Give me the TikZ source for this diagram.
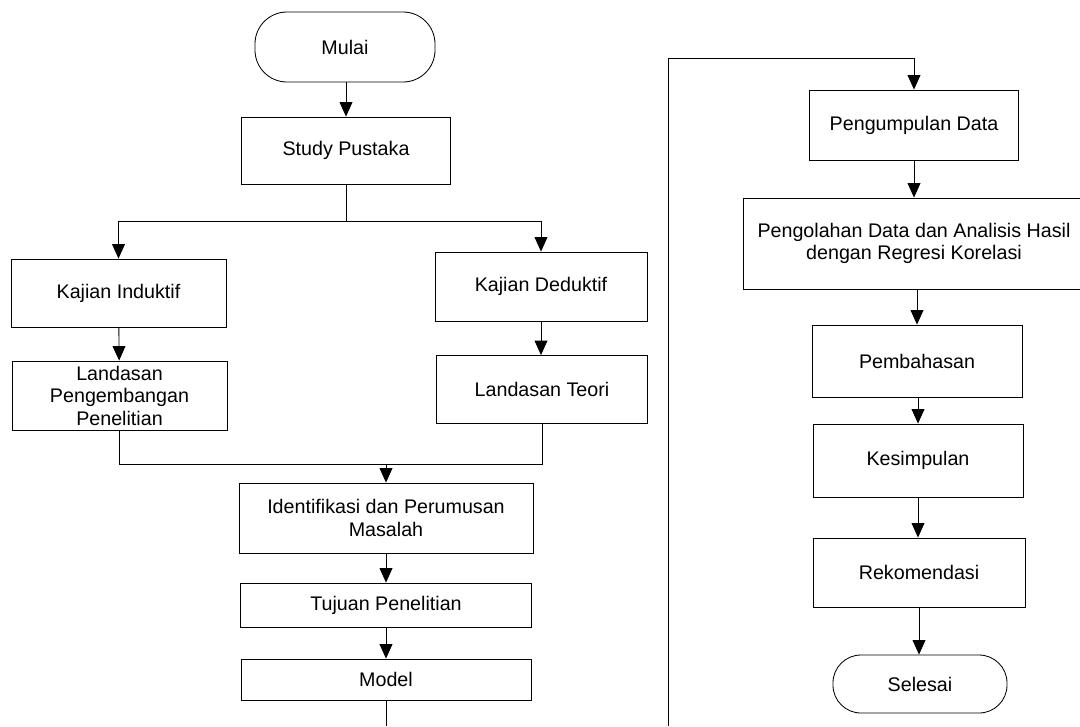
\documentclass[tikz,border=0pt]{standalone}
\usepackage{fontspec}
\setmainfont{Liberation Sans}
\usepackage{tikz}
\usetikzlibrary{arrows.meta}

\begin{document}
\begin{tikzpicture}[x=0.025cm,y=-0.025cm,line width=0.6pt,
  font=\fontsize{14}{16}\selectfont,
  procbox/.style={draw,rectangle,align=center,inner sep=2pt},
  termbox/.style={draw,rectangle,rounded corners=0.8cm,align=center},
  arr/.style={-{Triangle[width=0.32cm,length=0.36cm]}}]
  \useasboundingbox (0,0) rectangle (1080,726);
  % left column
  \node[termbox,minimum width=4.5cm,minimum height=1.75cm] (mulai) at (345,47) {Mulai};
  \node[procbox,minimum width=5.225cm,minimum height=1.675cm] (study) at (346,150.5) {Study Pustaka};
  \node[procbox,minimum width=5.375cm,minimum height=1.7cm] (induktif) at (118.5,293) {Kajian Induktif};
  \node[procbox,minimum width=5.375cm,minimum height=1.725cm] (landasanP) at (119.5,395.5) {Landasan\\Pengembangan\\Penelitian};
  \node[procbox,minimum width=5.3cm,minimum height=1.725cm] (deduktif) at (541,286.5) {Kajian Deduktif};
  \node[procbox,minimum width=5.275cm,minimum height=1.7cm] (teori) at (542,389.5) {Landasan Teori};
  \node[procbox,minimum width=7.35cm,minimum height=1.75cm] (identifikasi) at (386,518) {Identifikasi dan Perumusan\\Masalah};
  \node[procbox,minimum width=7.275cm,minimum height=1.1cm] (tujuan) at (386,605) {Tujuan Penelitian};
  \node[procbox,minimum width=7.25cm,minimum height=1.025cm] (model) at (386,679.5) {Model};
  % right column
  \node[procbox,minimum width=5.225cm,minimum height=1.75cm] (pengumpulan) at (914,125) {Pengumpulan Data};
  \node[procbox,minimum width=8.55cm,minimum height=2.275cm] (pengolahan) at (914,243.5) {Pengolahan Data dan Analisis Hasil\\dengan Regresi Korelasi};
  \node[procbox,minimum width=5.25cm,minimum height=1.8cm] (pembahasan) at (917,361) {Pembahasan};
  \node[procbox,minimum width=5.25cm,minimum height=1.825cm] (kesimpulan) at (918,460.5) {Kesimpulan};
  \node[procbox,minimum width=5.3cm,minimum height=1.725cm] (rekomendasi) at (919,572.5) {Rekomendasi};
  \node[termbox,minimum width=4.35cm,minimum height=1.45cm,rounded corners=0.7cm] (selesai) at (920,684) {Selesai};

  \coordinate (branch) at (346,221);
  \coordinate (merge) at (386,464);
  \coordinate (cutL) at (386,726);
  \coordinate (cutR) at (668,726);
  \coordinate (topR) at (668,58);

  \draw[arr] (mulai.south -| study.north) -- (study.north);
  \draw (study.south) -- (branch);
  \draw[arr] (branch) -| (induktif.north);
  \draw[arr] (branch) -| (deduktif.north);
  \draw[arr] (induktif) -- (landasanP);
  \draw[arr] (deduktif.south) -- (deduktif.south |- teori.north);
  \draw (landasanP.south) |- (merge);
  \draw (teori.south) |- (merge);
  \draw[arr] (merge) -- (identifikasi.north);
  \draw[arr] (identifikasi) -- (tujuan);
  \draw[arr] (tujuan) -- (model);
  \draw (model.south) -- (cutL);
  \draw[arr] (cutR) -- (topR) -| (pengumpulan.north);
  \draw[arr] (pengumpulan) -- (pengolahan);
  \draw[arr] (pengolahan.south -| pembahasan.north) -- (pembahasan.north);
  \draw[arr] (pembahasan.south) -- (pembahasan.south -| kesimpulan.north) -- (kesimpulan.north);
  \draw[arr] (kesimpulan.south) -- (kesimpulan.south |- rekomendasi.north);
  \draw[arr] (rekomendasi.south) -- (rekomendasi.south |- selesai.north);
\end{tikzpicture}
\end{document}
